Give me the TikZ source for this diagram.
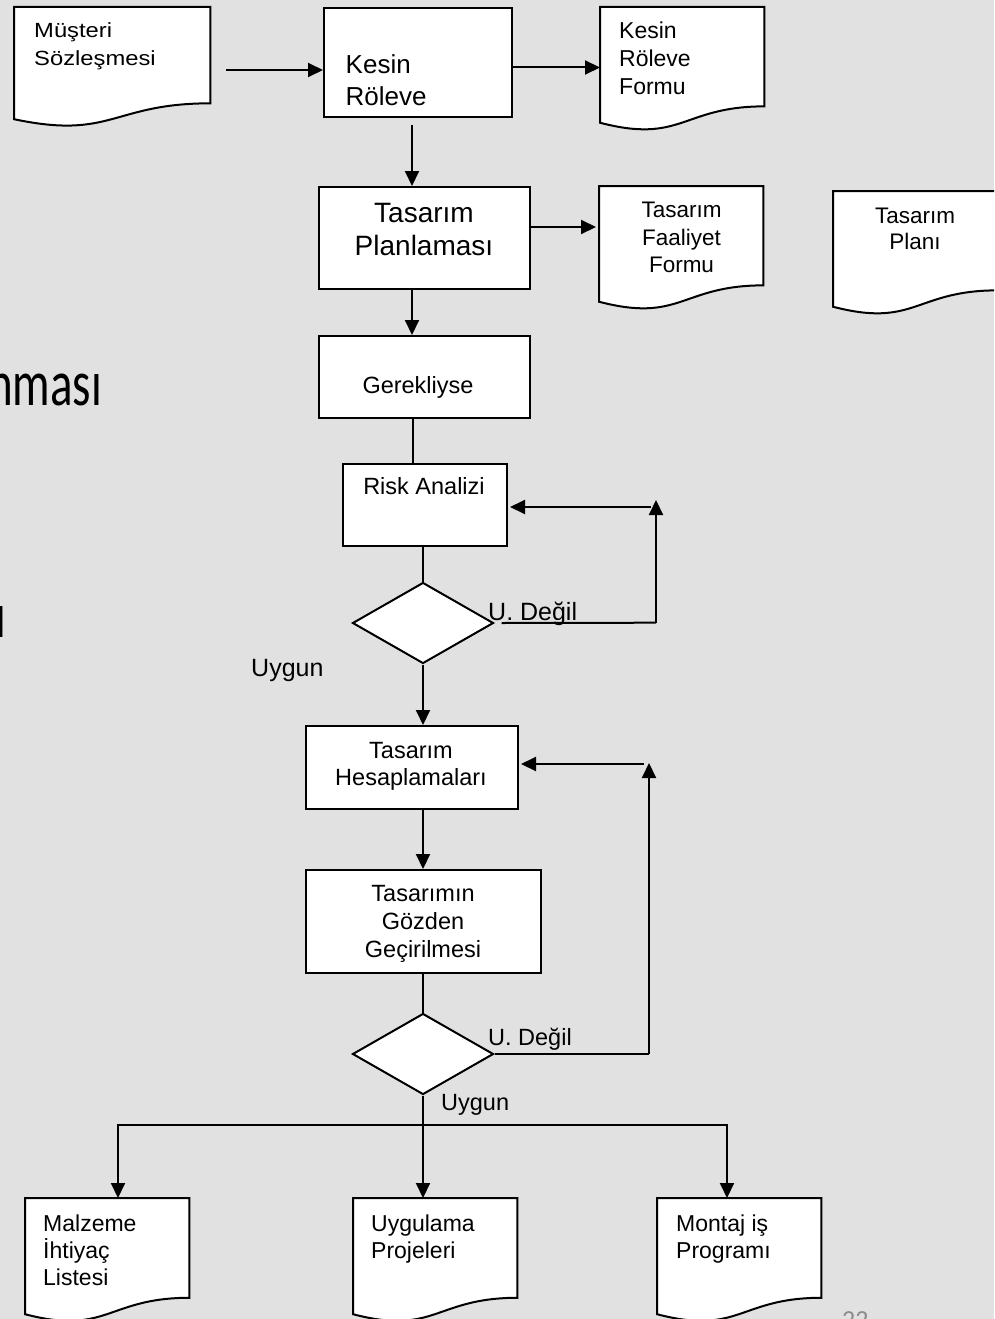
\documentclass[tikz,border=0pt]{standalone}
\usepackage{fontspec}
\usepackage{graphicx}
\setmainfont{Liberation Sans}
\newfontfamily\widefont[FakeStretch=1.16]{Liberation Sans}
\newfontfamily\slidefont{Carlito}
\usetikzlibrary{arrows.meta,shapes.geometric,calc}

\definecolor{paper}{RGB}{225,225,225}
\definecolor{slidenum}{RGB}{140,140,140}

\tikzset{
  line/.style={line width=2pt, black},
  tip/.tip={Triangle[length=15pt,width=14pt]},
  arr/.style={line, -tip},
  box/.style={rectangle, draw, line width=2pt, fill=white, inner sep=0pt, anchor=north west},
  frame/.style={rectangle, draw=none, inner sep=0pt, anchor=north west,
                minimum width=164pt, minimum height=123.5pt},
  docline/.style={draw, fill=white, line width=2pt},
  decision/.style={diamond, draw, line width=2pt, fill=white, inner sep=0pt,
                   minimum width=141pt, minimum height=81pt},
  txt/.style={inner sep=0pt, text depth=0pt, align=center},
  ltxt/.style={inner sep=0pt, text depth=0pt, align=left, anchor=west},
  fs/.style={font=\fontsize{23.5}{27}\selectfont},
  flab/.style={font=\fontsize{25}{28}\selectfont},
  slide/.style={inner sep=0pt, font=\slidefont\fontsize{47}{50}\selectfont},
}

% outline of a document symbol drawn on a frame node
\newcommand\docoutline[1]{%
  \path[docline] (#1.north west) -- (#1.north east)
    -- ($(#1.north east)!0.802!(#1.south east)$)
    .. controls ($(#1.north)!0.802!(#1.south)$) and ($(#1.north)!1.1075!(#1.south)$)
    .. ($(#1.north west)!0.934!(#1.south west)$) -- cycle;}

\begin{document}
\begin{tikzpicture}[x=1pt,y=-1pt]
\useasboundingbox (0,0) rectangle (994,1319);
\clip (0,0) rectangle (994,1319);
\fill[paper] (0,0) rectangle (994,1319);

% slide text behind the chart
\node[slide, anchor=base west] (titletail) at (-12,405) {\scalebox{1}[1.38]{nması}};
\node[slide, anchor=base east] (lineend) at (6.5,637) {\scalebox{1}[1.38]{ı}};
\node[inner sep=0pt, anchor=north west, text=slidenum,
      font=\slidefont\fontsize{26}{28}\selectfont] (pagenum) at (842,1311) {22};

% document symbols
\node[frame, minimum width=196pt, minimum height=119.7pt] (musteri) at (14,7) {};
\docoutline{musteri}
\node[frame] (kform) at (600,7) {};
\docoutline{kform}
\node[frame] (tfaal) at (599,186) {};
\docoutline{tfaal}
\node[frame] (tplan) at (833,191) {};
\docoutline{tplan}
\node[frame, minimum height=124pt] (malz) at (25,1198) {};
\docoutline{malz}
\node[frame, minimum height=124pt] (uyg) at (353,1198) {};
\docoutline{uyg}
\node[frame, minimum height=124pt] (montaj) at (657,1198) {};
\docoutline{montaj}

% process boxes
\node[box, minimum width=188pt, minimum height=109pt] (kesin) at (323,7) {};
\node[box, minimum width=211pt, minimum height=102pt] (tp) at (318,186) {};
\node[box, minimum width=211pt, minimum height=82pt] (gerek) at (318,335) {};
\node[box, minimum width=164pt, minimum height=82pt] (risk) at (342,463) {};
\node[box, minimum width=212pt, minimum height=83pt] (hesap) at (305,725) {};
\node[box, minimum width=235pt, minimum height=103pt] (gozden) at (305,869) {};

% decisions
\node[decision] (d1) at (423,623) {};
\node[decision] (d2) at (423,1054) {};

% connectors, top part
\coordinate (m1) at (226,70);
\draw[arr] (m1) -- (m1 -| kesin.west);
\coordinate (k2) at (511,67.5);
\draw[arr] (k2) -- (k2 -| kform.west);
\coordinate (k3) at (412,125);
\draw[arr] (k3) -- (k3 |- tp.north);
\coordinate (t2) at (529,227);
\draw[arr] (t2) -- ([xshift=-3pt]t2 -| tfaal.west);
\coordinate (t3) at (412,288);
\draw[arr] (t3) -- (t3 |- gerek.north);
\coordinate (g2) at (412.7,417);
\draw[line] (g2) -- (g2 |- risk.north);
\draw[line] (d1.north |- risk.south) -- (d1.north);

% loop back to the risk analysis
\coordinate (f1) at (656,622.7);
\coordinate (f2) at (656,500);
\coordinate (f3) at (651,507);
\draw[line] ([xshift=7pt]d1.east) -- (f1);
\draw[arr] (f1) -- (f2);
\draw[arr] (f3) -- ([xshift=2pt]f3 -| risk.east);

% main line down
\draw[arr] (d1.south) -- (d1.south |- hesap.north);
\draw[arr] (d1.south |- hesap.south) -- (d1.south |- gozden.north);
\draw[line] (d2.north |- gozden.south) -- (d2.north);

% loop back to the calculations
\coordinate (h2) at (649,1054);
\coordinate (h3) at (649,763);
\coordinate (h4) at (644,764);
\draw[line] (d2.east) -- (h2);
\draw[arr] (h2) -- (h3);
\draw[arr] (h4) -- ([xshift=2pt]h4 -| hesap.east);

% distribution to the output documents
\coordinate (b0) at (423,1125);
\coordinate (bl) at (118,1125);
\coordinate (br) at (727,1125);
\draw[line] (d2.south) -- (b0);
\draw[line, tip-tip] (bl |- malz.north) -- (bl) -- (br) -- (br |- montaj.north);
\draw[arr] (b0) -- (b0 |- uyg.north);

% texts
\node[ltxt, font=\widefont\fontsize{20.5}{28}\selectfont] (musteri-t) at (34,44) {Müşteri\\Sözleşmesi};
\node[ltxt, font=\fontsize{26}{32}\selectfont] (kesin-t) at (345.5,80) {Kesin\\Röleve};
\node[ltxt, font=\fontsize{23}{28}\selectfont] (kform-t) at (619,58) {Kesin\\Röleve\\Formu};
\node[txt, font=\fontsize{28}{33.5}\selectfont] (tp-t) at (424,229.5) {Tasarım\\Planlaması};
\node[txt, font=\fontsize{22.5}{27.5}\selectfont] (tfaal-t) at (681.5,237.5) {Tasarım\\Faaliyet\\Formu};
\node[txt, font=\fontsize{22.5}{26}\selectfont] (tplan-t) at (915,229) {Tasarım\\Planı};
\node[txt, fs] (gerek-t) at (418,384.5) {Gerekliyse};
\node[txt, fs] (risk-t) at (424,485.5) {Risk Analizi};
\node[ltxt, flab] (d1-no) at (488,611) {U. Değil};
\node[ltxt, flab] (d1-yes) at (251,668) {Uygun};
\node[txt, fs] (hesap-t) at (411,763.5) {Tasarım\\Hesaplamaları};
\node[txt, font=\fontsize{23.5}{28}\selectfont] (gozden-t) at (423,921) {Tasarımın\\Gözden\\Geçirilmesi};
\node[ltxt, fs] (d2-no) at (488,1036.5) {U. Değil};
\node[ltxt, fs] (d2-yes) at (441,1102.5) {Uygun};
\node[ltxt, font=\fontsize{23}{27}\selectfont] (malz-t) at (43,1250) {Malzeme\\İhtiyaç\\Listesi};
\node[ltxt, font=\fontsize{23}{27}\selectfont] (uyg-t) at (371,1236.5) {Uygulama\\Projeleri};
\node[ltxt, font=\fontsize{23}{27}\selectfont] (montaj-t) at (676,1236.5) {Montaj iş\\Programı};
\end{tikzpicture}
\end{document}
